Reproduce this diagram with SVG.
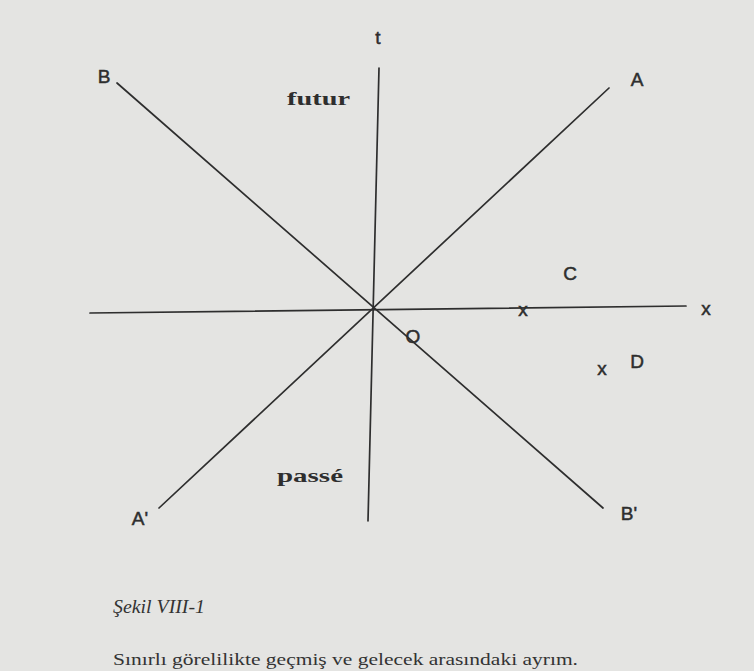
<svg xmlns="http://www.w3.org/2000/svg" width="754" height="671" viewBox="0 0 754 671">
<style>
.ln{stroke:#2e2e2e;stroke-width:1.7;fill:none;stroke-linecap:round}
.lb{font-family:"Liberation Sans",Arial,sans-serif;font-size:19px;fill:#2e2e2e;stroke:#2e2e2e;stroke-width:0.5}
.bd{font-family:"Liberation Serif","Times New Roman",serif;font-weight:bold;font-size:19px;fill:#2e2e2e}
.cap{font-family:"Liberation Serif","Times New Roman",serif;fill:#333}
</style>
<rect x="0" y="0" width="754" height="671" fill="#e4e4e2"/>
<g id="connectors">
<line class="ln" x1="379" y1="68" x2="368" y2="521"/>
<line class="ln" x1="90" y1="313" x2="686" y2="306"/>
<line class="ln" x1="117" y1="83" x2="603" y2="508"/>
<line class="ln" x1="609" y1="88" x2="159" y2="508"/>
</g>
<g id="t-axis-label"><text class="lb" x="378" y="44" text-anchor="middle">t</text></g>
<g id="x-axis-label"><text class="lb" x="706" y="315" text-anchor="middle">x</text></g>
<g id="node-B"><text class="lb" x="104" y="83" text-anchor="middle">B</text></g>
<g id="node-A"><text class="lb" x="637" y="86" text-anchor="middle">A</text></g>
<g id="node-A-prime"><text class="lb" x="140" y="525" text-anchor="middle">A'</text></g>
<g id="node-B-prime"><text class="lb" x="629" y="520" text-anchor="middle">B'</text></g>
<g id="node-O"><text class="lb" x="413" y="343" text-anchor="middle">O</text></g>
<g id="node-C"><text class="lb" x="570" y="280" text-anchor="middle">C</text></g>
<g id="node-D"><text class="lb" x="637" y="368" text-anchor="middle">D</text></g>
<g id="mark-1"><text class="lb" x="523" y="316" text-anchor="middle">x</text></g>
<g id="mark-2"><text class="lb" x="602" y="375" text-anchor="middle">x</text></g>
<g id="futur"><text class="bd" x="287" y="105" textLength="63" lengthAdjust="spacingAndGlyphs">futur</text></g>
<g id="passe"><text class="bd" x="277" y="482" textLength="66" lengthAdjust="spacingAndGlyphs">passé</text></g>
<g id="caption">
<text class="cap" x="113" y="613" font-size="19" font-style="italic" textLength="92" lengthAdjust="spacingAndGlyphs">Şekil VIII-1</text>
<text class="cap" x="113" y="665" font-size="17" textLength="465" lengthAdjust="spacingAndGlyphs">Sınırlı görelilikte geçmiş ve gelecek arasındaki ayrım.</text>
</g>
</svg>
